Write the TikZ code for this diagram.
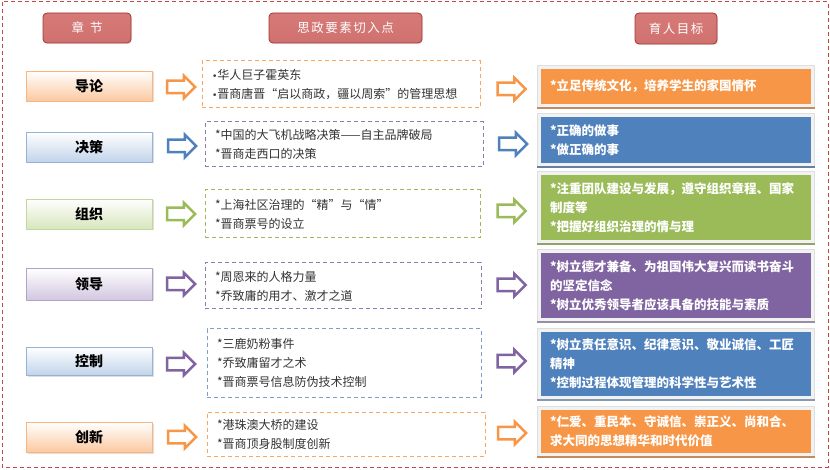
\documentclass[tikz,border=0pt]{standalone}
\usepackage{fontspec}
\setmainfont{Noto Sans CJK SC}
\newfontfamily\bulletfont{DejaVu Sans}
\usetikzlibrary{shapes.arrows,shadows,fit,backgrounds}
\definecolor{cOrange}{HTML}{F79646}
\definecolor{cBlue}{HTML}{4F81BD}
\definecolor{cGreen}{HTML}{9BBB59}
\definecolor{cPurple}{HTML}{8064A2}
\definecolor{cRed}{HTML}{C0504D}
\definecolor{hTop}{HTML}{D67A78}
\definecolor{hMid}{HTML}{B83D3A}
\definecolor{hBot}{HTML}{CF716F}
\definecolor{hBrd}{HTML}{A33532}
\definecolor{oBrd}{HTML}{F9B47F}
\definecolor{oBot}{HTML}{FBC9A0}
\definecolor{bBrd}{HTML}{95B3D7}
\definecolor{bBot}{HTML}{C2D4EA}
\definecolor{gBrd}{HTML}{C3D69B}
\definecolor{gBot}{HTML}{D8E6BE}
\definecolor{pBrd}{HTML}{B3A2C7}
\definecolor{pBot}{HTML}{D2C7E0}
\newcommand\blt{{\bulletfont\fontsize{9}{19}\selectfont •}}
\begin{document}
\begin{tikzpicture}[x=1pt,y=-1pt,
  hdr/.style={rounded corners=4pt, draw=hBrd, line width=0.8pt, top color=hTop, middle color=hMid, bottom color=hBot,
    text=white, font=\fontsize{12.5}{14}\selectfont, minimum height=30pt, inner sep=0pt,
    drop shadow={shadow xshift=1pt, shadow yshift=-1.2pt, opacity=0.2}},
  chap/.style n args={2}{draw=#1, line width=0.8pt, top color=white, bottom color=#2,
    drop shadow={shadow xshift=1.5pt, shadow yshift=-1.5pt, opacity=0.25},
    minimum width=126pt, minimum height=30pt, inner sep=0pt, font=\fontsize{14}{16}\selectfont\bfseries},
  harrow/.style={single arrow, draw=#1, fill=white, line width=2.5pt, minimum height=28pt,
    inner sep=5pt, single arrow head extend=5pt, shape border rotate=0},
  midbox/.style={draw=#1, dash pattern=on 4pt off 3pt, line width=1pt, fill=white, inner xsep=10pt, inner ysep=0pt,
    align=left, font=\fontsize{12}{19}\selectfont, text=black!80},
  rbox/.style={fill=#1, text=white, inner xsep=9pt, inner ysep=0pt, text width=252pt, align=left,
    font=\fontsize{12.5}{19}\selectfont\bfseries},
  rframe/.style={fill=gray!10, draw=gray!25, line width=0.5pt, inner sep=3.5pt},
  outerframe/.style={draw=cRed!90!red, line width=1pt, dash pattern=on 4pt off 3pt}
]
\useasboundingbox (0,0) rectangle (830,470);
\draw[outerframe] (2,2) rectangle (828,467);

% headers
\node[hdr, minimum width=88pt] (h1) at (87,28) {章\hspace{6pt}节};
\node[hdr, minimum width=153pt] (h2) at (345.5,28) {思\kern1.5pt 政\kern1.5pt 要\kern1.5pt 素\kern1.5pt 切\kern1.5pt 入\kern1.5pt 点};
\node[hdr, minimum width=82pt, minimum height=31pt] (h3) at (676,28.5) {育\kern1.5pt 人\kern1.5pt 目\kern1.5pt 标};

% chapter boxes
\node[chap={oBrd}{oBot}] (c1) at (89,86) {导论};
\node[chap={bBrd}{bBot}] (c2) at (89,147) {决策};
\node[chap={gBrd}{gBot}] (c3) at (89,214) {组织};
\node[chap={pBrd}{pBot}, minimum height=32pt] (c4) at (89,284) {领导};
\node[chap={bBrd}{bBot}, minimum height=28pt] (c5) at (89,361) {控制};
\node[chap={oBrd}{oBot}] (c6) at (89,437) {创新};

% first arrows
\node[harrow=cOrange] (a1) at (178,87) {};
\node[harrow=cBlue] (a2) at (179,146) {};
\node[harrow=cGreen] (a3) at (178,214) {};
\node[harrow=cPurple] (a4) at (178,284) {};
\node[harrow=cPurple] (a5) at (178,364) {};
\node[harrow=cOrange] (a6) at (179,437) {};

% middle boxes
\node[midbox=cOrange!85, text width=258pt, minimum height=47pt] (m1) at (341,84.5)
  {\blt 华人巨子霍英东\\{}\blt 晋商唐晋“启以商政，疆以周索”的管理思想};
\node[midbox=cPurple!85, text width=258pt, minimum height=45pt] (m2) at (344,144.5)
  {*中国的大飞机战略决策——自主品牌破局\\{}*晋商走西口的决策};
\node[midbox=cGreen, text width=255pt, minimum height=48pt] (m3) at (342.5,214)
  {*上海社区治理的“精”与“情”\\{}*晋商票号的设立};
\node[midbox=cPurple!85, text width=256pt, minimum height=46pt] (m4) at (343,286)
  {*周恩来的人格力量\\{}*乔致庸的用才、激才之道};
\node[midbox=cBlue!75, text width=254pt, minimum height=68pt] (m5) at (344,363)
  {*三鹿奶粉事件\\{}*乔致庸留才之术\\{}*晋商票号信息防伪技术控制};
\node[midbox=cOrange!85, text width=258pt, minimum height=44pt] (m6) at (346,434)
  {*港珠澳大桥的建设\\{}*晋商顶身股制度创新};

% second arrows
\node[harrow=cOrange] (b1) at (508.5,89) {};
\node[harrow=cBlue] (b2) at (510,144) {};
\node[harrow=cGreen] (b3) at (508.5,211) {};
\node[harrow=cPurple] (b4) at (508.5,285) {};
\node[harrow=cPurple] (b5) at (508.5,361) {};
\node[harrow=cOrange] (b6) at (509,433) {};

% right boxes
\node[rbox=cOrange, minimum height=35pt] (r1) at (676,86.5) {*立足传统文化，培养学生的家国情怀};
\node[rbox=cBlue, minimum height=46pt] (r2) at (676,140) {*正确的做事\\{}*做正确的事};
\node[rbox=cGreen, minimum height=65pt] (r3) at (676,207.5) {*注重团队建设与发展，遵守组织章程、国家\\{}制度等\\{}*把握好组织治理的情与理};
\node[rbox=cPurple, minimum height=65pt] (r4) at (676,285.5) {*树立德才兼备、为祖国伟大复兴而读书奋斗\\{}的坚定信念\\{}*树立优秀领导者应该具备的技能与素质};
\node[rbox=cBlue, minimum height=64pt] (r5) at (676,364) {*树立责任意识、纪律意识、敬业诚信、工匠\\{}精神\\{}*控制过程体现管理的科学性与艺术性};
\node[rbox=cOrange, minimum height=43pt] (r6) at (676,431.5) {*仁爱、重民本、守诚信、崇正义、尚和合、\\{}求大同的思想精华和时代价值};

\begin{scope}[on background layer]
  \node[rframe, fit=(r1)] (f1) {};
  \node[rframe, fit=(r2)] (f2) {};
  \node[rframe, fit=(r3)] (f3) {};
  \node[rframe, fit=(r4)] (f4) {};
  \node[rframe, fit=(r5)] (f5) {};
  \node[rframe, fit=(r6)] (f6) {};
\end{scope}
\draw[line width=1.5pt, cOrange!55!gray] (f1.south west) -- (f1.south east);
\draw[line width=1.5pt, cBlue!55!gray] (f2.south west) -- (f2.south east);
\draw[line width=1.5pt, cGreen!60!gray] (f3.south west) -- (f3.south east);
\draw[line width=1.5pt, cPurple!45!gray!80] (f4.south west) -- (f4.south east);
\draw[line width=1.5pt, cBlue!45!gray!80] (f5.south west) -- (f5.south east);
\draw[line width=1.5pt, cOrange!55!gray] (f6.south west) -- (f6.south east);
\end{tikzpicture}
\end{document}
